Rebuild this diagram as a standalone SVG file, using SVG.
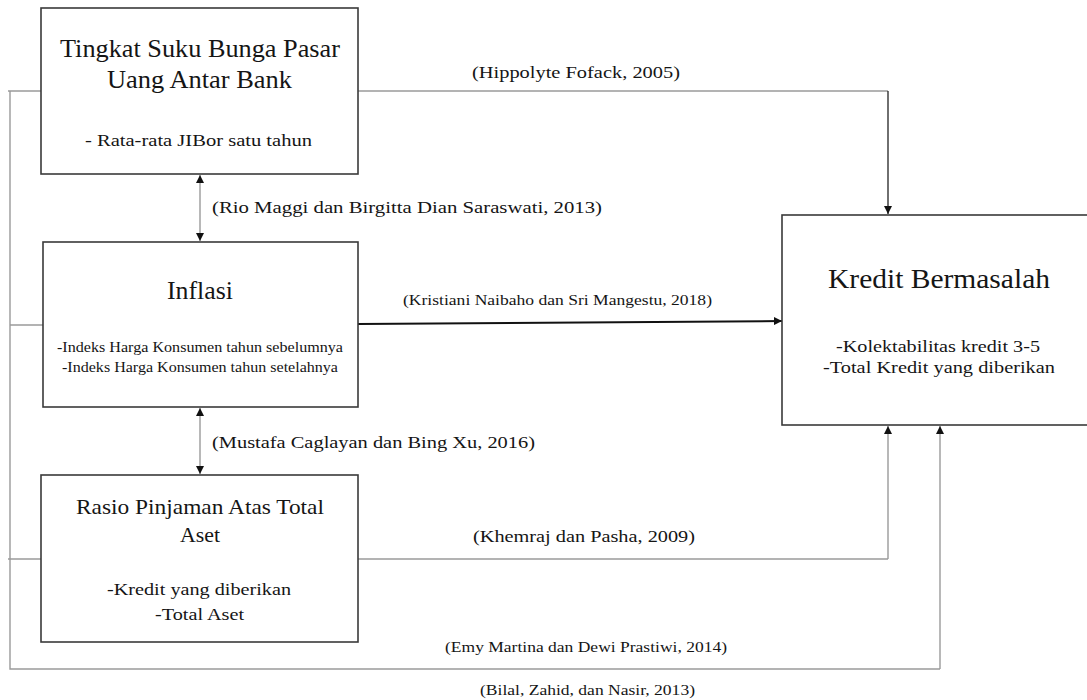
<svg xmlns="http://www.w3.org/2000/svg" width="1087" height="700" viewBox="0 0 1087 700" font-family="'Liberation Serif', 'Times New Roman', 'DejaVu Serif', serif">
<style>
.box{fill:#fff;stroke:#3a3a3a;stroke-width:1.6}
.ln{fill:none;stroke:#9a9a9a;stroke-width:1.4}
.dk{fill:none;stroke:#222;stroke-width:1.3}
text{font-family:'Liberation Serif','Times New Roman','DejaVu Serif',serif;fill:#151515}
</style>
<defs>
<marker id="ah" viewBox="0 0 10 10" refX="10" refY="5" markerWidth="8" markerHeight="8" markerUnits="userSpaceOnUse" orient="auto-start-reverse">
<path d="M0,0 L10,5 L0,10 z" fill="#111"/>
</marker>
</defs>
<rect width="1087" height="700" fill="#fff"/>
<g id="connectors">
<polyline class="ln" points="358,91 888,91"/>
<line class="dk" x1="888" y1="91" x2="888" y2="214" marker-end="url(#ah)"/>
<polyline class="ln" points="41,91 8,91"/>
<polyline class="ln" points="10,91 10,669 940,669"/>
<line class="ln" x1="940" y1="669" x2="940" y2="426" stroke="#888" marker-end="url(#ah)"/>
<polyline class="ln" points="10,325 43,325"/>
<line x1="358" y1="324" x2="782" y2="321" stroke="#111" stroke-width="2" marker-end="url(#ah)"/>
<polyline class="ln" points="8,559 41,559"/>
<polyline class="ln" points="358,559 888,559"/>
<line class="ln" x1="888" y1="559" x2="888" y2="426" stroke="#777" marker-end="url(#ah)"/>
<line class="ln" x1="200" y1="175" x2="200" y2="241" stroke="#777" marker-start="url(#ah)" marker-end="url(#ah)"/>
<line class="ln" x1="200" y1="408" x2="200" y2="474" stroke="#777" marker-start="url(#ah)" marker-end="url(#ah)"/>
<text x="472" y="78" font-size="16" textLength="208" lengthAdjust="spacingAndGlyphs">(Hippolyte  Fofack,  2005)</text>
<text x="212" y="213" font-size="16" textLength="390" lengthAdjust="spacingAndGlyphs">(Rio Maggi  dan Birgitta  Dian Saraswati,  2013)</text>
<text x="403" y="305" font-size="15" textLength="309" lengthAdjust="spacingAndGlyphs">(Kristiani  Naibaho dan Sri Mangestu, 2018)</text>
<text x="212" y="448" font-size="16" textLength="323" lengthAdjust="spacingAndGlyphs">(Mustafa  Caglayan  dan Bing Xu, 2016)</text>
<text x="473" y="542" font-size="16" textLength="222" lengthAdjust="spacingAndGlyphs">(Khemraj  dan Pasha,  2009)</text>
<text x="445" y="652" font-size="14" textLength="282" lengthAdjust="spacingAndGlyphs">(Emy Martina dan Dewi Prastiwi, 2014)</text>
<text x="480" y="695" font-size="14" textLength="215" lengthAdjust="spacingAndGlyphs">(Bilal,  Zahid, dan Nasir, 2013)</text>
</g>
<g id="node-suku-bunga">
<rect class="box" x="41" y="8" width="317" height="166"/>
<text x="60" y="57" font-size="25" textLength="280" lengthAdjust="spacingAndGlyphs">Tingkat Suku Bunga Pasar</text>
<text x="107" y="88" font-size="25" textLength="185" lengthAdjust="spacingAndGlyphs">Uang Antar Bank</text>
<text x="85" y="146" font-size="16" textLength="227" lengthAdjust="spacingAndGlyphs">- Rata-rata  JIBor satu  tahun</text>
</g>
<g id="node-inflasi">
<rect class="box" x="43" y="242" width="315" height="165"/>
<text x="167" y="299" font-size="26" textLength="66" lengthAdjust="spacingAndGlyphs">Inflasi</text>
<text x="57" y="352" font-size="14" textLength="286" lengthAdjust="spacingAndGlyphs">-Indeks Harga  Konsumen tahun sebelumnya</text>
<text x="62" y="372" font-size="14" textLength="276" lengthAdjust="spacingAndGlyphs">-Indeks Harga  Konsumen tahun setelahnya</text>
</g>
<g id="node-rasio">
<rect class="box" x="41" y="475" width="317" height="167"/>
<text x="76" y="514" font-size="22" textLength="248" lengthAdjust="spacingAndGlyphs">Rasio Pinjaman Atas Total</text>
<text x="180" y="542" font-size="22" textLength="40" lengthAdjust="spacingAndGlyphs">Aset</text>
<text x="107" y="595" font-size="16" textLength="184" lengthAdjust="spacingAndGlyphs">-Kredit yang  diberikan</text>
<text x="155" y="620" font-size="16" textLength="89" lengthAdjust="spacingAndGlyphs">-Total Aset</text>
</g>
<g id="node-kredit">
<rect class="box" x="782" y="215" width="320" height="210"/>
<text x="828" y="288" font-size="27" textLength="222" lengthAdjust="spacingAndGlyphs">Kredit Bermasalah</text>
<text x="836" y="352" font-size="16" textLength="204" lengthAdjust="spacingAndGlyphs">-Kolektabilitas  kredit 3-5</text>
<text x="823" y="373" font-size="16" textLength="232" lengthAdjust="spacingAndGlyphs">-Total Kredit yang  diberikan</text>
</g>
</svg>
